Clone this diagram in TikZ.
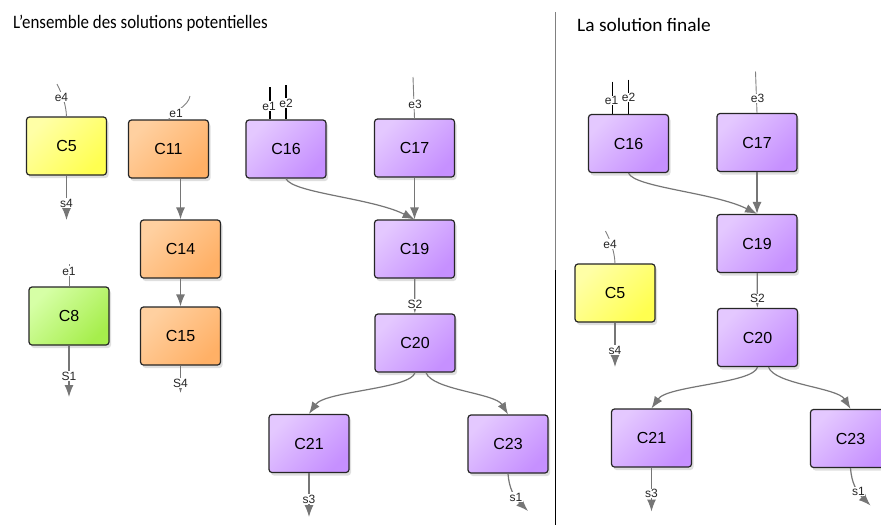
\documentclass[tikz,border=0pt]{standalone}
\usepackage{fontspec}
\setmainfont{Liberation Sans}
\newfontfamily\titlefont{Carlito}
\usetikzlibrary{arrows.meta,shadows}
\definecolor{ylA}{HTML}{FFFFA6}\definecolor{ylB}{HTML}{FFFF50}
\definecolor{orA}{HTML}{FFD0A0}\definecolor{orB}{HTML}{FFB066}
\definecolor{grA}{HTML}{D6FFA6}\definecolor{grB}{HTML}{A6EE4C}
\definecolor{puA}{HTML}{E4C8FF}\definecolor{puB}{HTML}{C690FF}
\definecolor{lnk}{HTML}{767676}
\tikzset{
  box/.style={rectangle, rounded corners=3pt, draw=black!85, line width=1.2pt,
    minimum width=80pt, minimum height=58pt, inner sep=0pt,
    font=\fontsize{16}{16}\selectfont,
    drop shadow={shadow xshift=2pt, shadow yshift=-3pt, opacity=0.25}},
  yel/.style={box, top color=ylA, bottom color=ylB, shading angle=45},
  ora/.style={box, top color=orA, bottom color=orB, shading angle=45},
  grn/.style={box, top color=grA, bottom color=grB, shading angle=45},
  pur/.style={box, top color=puA, bottom color=puB, shading angle=45},
  link/.style={draw=lnk, line width=1.2pt, -{Latex[length=12pt,width=9pt]}},
  stubg/.style={draw=gray, line width=0.9pt},
  stubk/.style={draw=black, line width=1.4pt},
  lab/.style={font=\fontsize{12}{12}\selectfont, text=black!85, fill=white, inner sep=0.5pt},
  ttl/.style={anchor=base west, inner sep=0pt, font=\titlefont\fontsize{19}{19}\selectfont}
}
\begin{document}
\begin{tikzpicture}[x=1pt,y=-1pt]
\useasboundingbox (0,0) rectangle (881,525);
\clip (0,0) rectangle (881,525);
\fill[white] (0,0) rectangle (881,525);
% titles
\node[ttl] (t1) at (13,28) {\scalebox{0.89}[1]{L’ensemble des solutions potentielles}};
\node[ttl] (t2) at (577,31) {\scalebox{1.02}[1]{La solution finale}};
% divider
\coordinate (d0) at (555,12);
\coordinate (d1) at (555,270);
\coordinate (d2) at (555,525);
\draw[gray, line width=1pt] (d0) -- (d1);
\draw[black, line width=1pt] (d1) -- (d2);
% left: C5, C8, C11, C14, C15
\node[yel] (C5) at (66.5,146) {C5};
\node[ora] (C11) at (168.5,149) {C11};
\node[ora] (C14) at (180.5,249) {C14};
\node[ora] (C15) at (180.5,336) {C15};
\node[grn] (C8) at (69,316) {C8};
% C5 in/out
\coordinate (c5in) at (57,84);
\draw[stubg] (c5in) .. controls (62,94) and (66,104) .. (C5.north);
\node[lab] (c5e4) at (61.5,97) {e4};
\coordinate (c5out) at (66.5,220);
\draw[link] (C5) -- (c5out);
\node[lab] (c5s4) at (66.5,203) {s4};
% C11
\coordinate (c11in) at (190,96);
\draw[stubg] (c11in) .. controls (188,106) and (176,110) .. (C11.north);
\node[lab] (c11e1) at (176,113) {e1};
\draw[link] (C11.south -| C14) -- (C14);
\draw[link] (C14) -- (C15);
\coordinate (c15out) at (180.5,393);
\draw[link] (C15) -- (c15out);
\node[lab] (c15s4) at (180.5,383) {S4};
% C8
\coordinate (c8in) at (69,264);
\draw[stubg] (c8in) -- (C8);
\node[lab] (c8e1) at (69,271) {e1};
\coordinate (c8out) at (69,397);
\draw[link] (C8) -- (c8out);
\node[lab] (c8s1) at (69,376) {S1};
% right C5
\node[yel] (rC5) at (615,293) {C5};
\coordinate (rc5in) at (605.5,231);
\draw[stubg] (rc5in) .. controls (610.5,241) and (614.5,251) .. (rC5.north);
\node[lab] (rc5e4) at (610,244) {e4};
\coordinate (rc5out) at (615,367);
\draw[link] (rC5) -- (rc5out);
\node[lab] (rc5s4) at (615,350) {s4};
% purple groups
\foreach \p/\dx/\dy in {L/0/0, R/342.5/-5.5} {
\begin{scope}[shift={(\dx,\dy)}]
  \node[pur] (\p16) at (286,149) {C16};
  \node[pur] (\p17) at (414.5,148) {C17};
  \node[pur] (\p19) at (414.5,249) {C19};
  \node[pur] (\p20) at (415,343) {C20};
  \node[pur] (\p21) at (309,443.5) {C21};
  \node[pur] (\p23) at (508,444) {C23};
  % inputs
  \coordinate (\p e1t) at (270,87);
  \draw[stubk] (\p e1t) -- (\p e1t |- \p16.north);
  \coordinate (\p e2t) at (286,85);
  \draw[stubk] (\p e2t) -- (\p16.north);
  \node[lab] (\p e1l) at (269,106) {e1};
  \node[lab] (\p e2l) at (286,103) {e2};
  \coordinate (\p e3t) at (413,77);
  \draw[stubg] (\p e3t) -- (\p17.north);
  \node[lab] (\p e3l) at (415,104) {e3};
  % links
  \draw[link] (\p16.south) .. controls (292,193) and (372,198) .. (\p19.north);
  \draw[link] (\p17) -- (\p19);
  \draw[link] (\p19) -- (\p20);
  \node[lab] (\p s2) at (415,304) {S2};
  \draw[link] (\p20.south) .. controls (411,389) and (325,391) .. (\p21.north);
  \draw[link] ([xshift=11pt]\p20.south) .. controls (432,390) and (495,393) .. (\p23.north);
  % outputs
  \coordinate (\p s3t) at (309,517);
  \draw[link] (\p21) -- (\p s3t);
  \node[lab] (\p s3l) at (309,499) {s3};
  \coordinate (\p s1t) at (528,511);
  \draw[link] (\p23.south) .. controls (509,488) and (514,497) .. (\p s1t);
  \node[lab] (\p s1l) at (516,497) {s1};
\end{scope}
}
\end{tikzpicture}
\end{document}
